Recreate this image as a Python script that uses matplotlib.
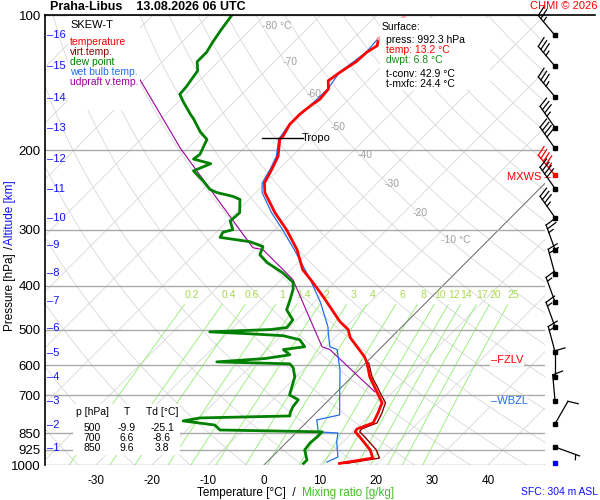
import numpy as np
import matplotlib
matplotlib.use("Agg")
import matplotlib.pyplot as plt

plt.rcParams['font.family'] = ['Liberation Sans', 'DejaVu Sans']

# sounding values
temp_p = [992, 965, 926, 866, 844, 832, 806, 766, 727, 698, 674, 637, 593, 575, 521, 500,
          480, 422, 391, 368, 332, 300, 275, 248, 236, 220, 206, 189, 186, 175, 166, 159,
          154, 146, 140, 134, 127, 121, 117, 113]
temp_t = [13.2, 18.2, 16.3, 12.1, 10.4, 10.2, 12.0, 11.1, 10.0, 7.9, 6.1, 3.2, 0.2, -1.3, -7.3, -9.1,
          -12.0, -19.5, -24.1, -27.9, -32.5, -37.9, -43.0, -48.4, -50.2, -51.3, -52.5, -55.2, -55.2, -56.1, -56.1, -55.7,
          -55.2, -55.5, -57.0, -56.4, -55.4, -55.2, -54.5, -55.5]
top_p = [113, 100]
top_t = [-55.5, -54.8]

virt_p = [992, 965, 926, 866, 844, 832, 806, 766, 727, 698, 674, 637, 593]
virt_t = [14.4, 19.4, 17.4, 13.0, 11.2, 11.0, 12.7, 11.8, 10.6, 8.4, 6.6, 3.6, 0.5]

dew_p = [992, 975, 926, 893, 866, 844, 836, 815, 798, 786, 778, 766, 743, 716, 699, 674, 637,
         608, 596, 590, 580, 569, 554, 546, 527, 516, 511, 506, 500, 495, 476, 452, 429, 407,
         393, 374, 355, 341, 327, 319, 312, 304, 300, 287, 275, 257, 253, 248, 244, 234, 222,
         214, 209, 204, 189, 182, 170, 166, 156, 150, 144, 133, 127, 121, 115, 108, 100]
dew_t = [6.8, 6.8, 4.6, 4.3, 4.5, 4.5, -14.1, -15.9, -22.3, -19.8, -4.1, -4.6, -5.2, -5.5, -7.9, -8.8, -10.2,
         -12.1, -13.4, -26.8, -18.8, -15.0, -17.1, -13.8, -15.9, -19.6, -25.9, -33.4, -23.0, -20.4, -20.7, -23.6, -24.8, -26.1,
         -27.3, -30.9, -35.5, -38.2, -39.1, -42.3, -48.4, -48.8, -47.5, -49.5, -49.3, -51.6, -53.4, -57.0, -58.8, -61.4, -65.0,
         -63.2, -67.1, -66.8, -68.2, -70.7, -74.3, -75.7, -79.1, -81.1, -81.3, -82.1, -83.8, -83.8, -84.5, -85.2, -85.9]

wet_p = [985, 960, 889, 849, 844, 794, 774, 706, 614, 554, 546, 508, 493, 435, 387, 332, 300,
         275, 248, 236, 220, 206, 189, 175, 159, 146, 134, 121, 113]
wet_t = [10.7, 11.8, 8.9, 7.5, 3.8, 1.4, 4.6, 1.4, -3.4, -7.5, -9.3, -12.1, -13.2, -18.9, -24.8, -33.0, -38.6,
         -43.6, -48.9, -50.6, -51.6, -52.8, -55.4, -56.2, -55.8, -55.6, -56.5, -55.3, -55.6]

updraft_p = [688, 554, 546, 387, 332, 329, 198, 139, 100]
updraft_t = [6.8, -8.8, -10.7, -27.9, -38.6, -40.7, -71.3, -90.9, -107.5]

alt_km = [1, 2, 3, 4, 5, 6, 7, 8, 9, 10, 11, 12, 13, 14, 15, 16]
alt_p = [916, 815, 720, 637, 563, 495, 431, 375, 325, 282, 244, 209, 178, 153, 130, 111]

wind_p = [111, 130, 152, 178, 198, 227, 243, 282, 332, 377, 434, 493, 560, 637, 720, 810, 912]
wind_dir = [320, 320, 320, 325, 325, 320, 325, 325, 340, 345, 340, 340, 345, 0, 355, 30, 110]
wind_kt = [25, 35, 35, 35, 40, 45, 40, 35, 25, 20, 15, 15, 15, 10, 10, 10, 5]

mix_ratios = [0.2, 0.4, 0.6, 1, 1.4, 2, 3, 4, 6, 8, 10, 12, 14, 17, 20, 25]
isobars = [100, 200, 300, 400, 500, 600, 700, 850, 925, 1000]

SKEW = 80.2  # degC per decade of pressure


def skew_x(t, p):
    return np.asarray(t) + SKEW * np.log10(1000.0 / np.asarray(p, dtype=float))


def draw_barb(axb, x0, y0, wdir, spd, color, shaft=26.0, flen=10.0, gap=4.0):
    # shaft points to where the wind comes from; feathers on the clockwise side
    a = np.deg2rad(wdir)
    dx, dy = np.sin(a), np.cos(a)
    fx, fy = dy, -dx
    tx, ty = x0 + shaft * dx, y0 + shaft * dy
    kw = dict(color=color, lw=0.9, clip_on=False)
    axb.plot([x0, tx], [y0, ty], **kw)
    n_full, half = int(spd // 10), (spd % 10) >= 5
    pos = 0.0
    for _ in range(n_full):
        bx0, by0 = tx - pos * dx, ty - pos * dy
        axb.plot([bx0, bx0 + flen * fx + 3 * dx], [by0, by0 + flen * fy + 3 * dy], **kw)
        pos += gap
    if half:
        if n_full == 0:
            pos = gap
        bx0, by0 = tx - pos * dx, ty - pos * dy
        axb.plot([bx0, bx0 + 0.5 * flen * fx + 1.5 * dx], [by0, by0 + 0.5 * flen * fy + 1.5 * dy], **kw)
    axb.plot([x0], [y0], 's', ms=2.5, color=color, clip_on=False)


fig = plt.figure(figsize=(6, 5), dpi=100)
ax = fig.add_axes([45 / 600, 35 / 500, 500 / 600, 450 / 500])
ax.set_yscale('log')
ax.set_ylim(1000, 100)
ax.set_xlim(-39.1, 50.2)
for s in ['top', 'right', 'bottom']:
    ax.spines[s].set_visible(False)
ax.spines['left'].set_linewidth(1.2)

pp = np.logspace(np.log10(100), np.log10(1000), 200)

# isotherms
for t0 in range(-160, 60, 10):
    ax.plot(skew_x(np.full_like(pp, t0), pp), pp, color='#d8d8d8', lw=0.6, zorder=1)
ax.plot(skew_x(np.zeros_like(pp), pp), pp, color='#707070', lw=0.7, zorder=2)

# dry adiabats
for th in range(230, 480, 10):
    tt = th * (pp / 1000.0) ** 0.286 - 273.15
    ax.plot(skew_x(tt, pp), pp, color='#d8d8d8', lw=0.6, zorder=1)

# mixing ratio lines
pm = np.logspace(np.log10(440), np.log10(1000), 50)
for w in mix_ratios:
    e = w * pm / (622.0 + w)
    td = 243.5 * np.log(e / 6.112) / (17.67 - np.log(e / 6.112))
    ax.plot(skew_x(td, pm), pm, color='#90ee70', lw=0.6, zorder=1)
    e0 = w * 418 / (622.0 + w)
    td0 = 243.5 * np.log(e0 / 6.112) / (17.67 - np.log(e0 / 6.112))
    ax.text(skew_x(td0, 418), 418, f"{w:g}", color='#a8d850', fontsize=7.5,
            ha='center', va='center', zorder=3)

for p in isobars:
    ax.axhline(p, color='#aaaaaa', lw=1.0, zorder=2)

iso_lbl = [(-80, 106, '-80 °C'), (-70, 127, '-70'), (-60, 150, '-60'), (-50, 177, '-50'),
           (-40, 205, '-40'), (-30, 238, '-30'), (-20, 275, '-20'), (-10, 316, '-10 °C')]
for t0, p, s in iso_lbl:
    ax.text(skew_x(t0, p) + 1.5, p, s, color='#a0a0a0', fontsize=7.5, ha='left', va='center', zorder=3)

# profiles
ax.plot(skew_x(updraft_t, updraft_p), updraft_p, color='#a000a0', lw=0.8, zorder=4)
ax.plot(skew_x(wet_t, wet_p), wet_p, color='#2070f0', lw=0.9, zorder=4)
ax.plot(skew_x(virt_t, virt_p), virt_p, color='#8b0000', lw=1.0, zorder=4)
ax.plot(skew_x(dew_t, dew_p), dew_p, color='#008000', lw=2.0, zorder=5)
ax.plot(skew_x(temp_t, temp_p), temp_p, color='#ff0000', lw=2.0, zorder=5)
ax.plot(skew_x(top_t, top_p), top_p, color='#ffaaaa', lw=2.0, zorder=5)

# tropopause
ax.plot([skew_x(-58.5, 188), skew_x(-51.2, 188)], [188, 188], color='black', lw=1, zorder=6)
ax.text(skew_x(-51.5, 188), 188, 'Tropo', fontsize=8, va='center', zorder=6)

ax.set_yticks(isobars)
ax.set_yticklabels([str(p) for p in isobars], fontsize=9.5)
ax.yaxis.set_minor_locator(matplotlib.ticker.NullLocator())
ax.tick_params(axis='y', length=0, pad=3)
ax.set_xticks(skew_x(np.arange(-30, 50, 10), 1000))
ax.set_xticklabels([str(t) for t in range(-30, 50, 10)], fontsize=8.5)
ax.tick_params(axis='x', length=0, pad=7)

for km, p in zip(alt_km, alt_p):
    ax.text(0.004, p, '\u2013' + str(km), transform=ax.get_yaxis_transform(), color='#1010ff',
            fontsize=8, va='center', ha='left', zorder=6)

# labels
ax.text(40.5, 585, '\u2013FZLV', color='red', fontsize=8, va='center',
        bbox=dict(fc='white', ec='none', pad=0.5), zorder=7)
ax.text(40.5, 722, '\u2013WBZL', color='#2070f0', fontsize=8, va='center',
        bbox=dict(fc='white', ec='none', pad=0.5), zorder=7)
ax.text(43.5, 229, 'MXWS \u2013', color='red', fontsize=8, va='center', zorder=7)

# legend box
fig.patches.append(plt.Rectangle((68 / 600, 1 - 110 / 500), 72 / 600, 94 / 500,
                                 transform=fig.transFigure, fc='white', ec='none', zorder=6))
leg = [('SKEW-T', 'black'), ('temperature', 'red'), ('virt.temp.', '#8b0000'), ('dew point', '#008000'),
       ('wet bulb temp.', '#2070f0'), ('udpraft v.temp.', '#a000a0')]
fig.text(70 / 600, 1 - 25 / 500, leg[0][0], fontsize=8, color=leg[0][1], va='center', zorder=8)
for i, (s, c) in enumerate(leg[1:]):
    fig.text(70 / 600, 1 - (42 + 10 * i) / 500, s, fontsize=7.5, color=c, va='center', zorder=8)

# surface box
fig.patches.append(plt.Rectangle((380 / 600, 1 - 90 / 500), 110 / 600, 72 / 500,
                                 transform=fig.transFigure, fc='white', ec='none', zorder=6))
sfc = [('Surface:', 'black', 27), ('press: 992.3 hPa', 'black', 40), ('temp: 13.2 °C', 'red', 50),
       ('dwpt: 6.8 °C', '#109010', 60), ('t-conv: 42.9 °C', 'black', 74), ('t-mxfc: 24.4 °C', 'black', 84)]
for s, c, y in sfc:
    x = 382 if s == 'Surface:' else 386
    fig.text(x / 600, 1 - y / 500, s, fontsize=7.5, color=c, va='center', zorder=8)

# table box
fig.patches.append(plt.Rectangle((73 / 600, 1 - 455 / 500), 107 / 600, 51 / 500,
                                 transform=fig.transFigure, fc='white', ec='none', zorder=6))
tab = [('p [hPa]', 'T', 'Td [°C]', 412), ('500', '-9.9', '-25.1', 428), ('700', '6.6', '-8.6', 438),
       ('850', '9.6', '3.8', 448)]
for a, b, c, y in tab:
    fig.text(92 / 600, 1 - y / 500, a, fontsize=7.5, ha='center', va='center', zorder=8)
    fig.text(127 / 600, 1 - y / 500, b, fontsize=7.5, ha='center', va='center', zorder=8)
    fig.text(162 / 600, 1 - y / 500, c, fontsize=7.5, ha='center', va='center', zorder=8)

# title and frame
fig.text(50 / 600, 1 - 7 / 500, 'Praha-Libus    13.08.2026 06 UTC', fontsize=9, weight='bold', va='center')
fig.text(597 / 600, 1 - 6 / 500, 'CHMI © 2026', fontsize=8, color='red', ha='right', va='center')
fig.add_artist(plt.Line2D([45 / 600, 595 / 600], [1 - 15 / 500] * 2, color='black', lw=1.2))
fig.text(10 / 600, 1 - 292 / 500, 'Pressure [hPa]', rotation=90, fontsize=8.5, ha='center', va='center')
fig.text(10 / 600, 1 - 247 / 500, '/', rotation=90, fontsize=8.5, ha='center', va='center')
fig.text(10 / 600, 1 - 213 / 500, 'Altitude [km]', rotation=90, fontsize=8.5, color='#1010ff',
         ha='center', va='center')
fig.text(197 / 600, 1 - 493 / 500, 'Temperature [°C]  /', fontsize=8.5, va='center')
fig.text(302 / 600, 1 - 493 / 500, 'Mixing ratio [g/kg]', fontsize=8.5, color='#40c020', va='center')
fig.text(598 / 600, 1 - 492 / 500, 'SFC: 304 m ASL', fontsize=7.5, color='#1010ff', ha='right', va='center')

# wind barbs, axis in pixel units (y = log-pressure scaled like the main axes)
bx = fig.add_axes([545 / 600, 35 / 500, 55 / 600, 450 / 500])
bx.set_xlim(0, 55)
bx.set_ylim(0, 450)
bx.axis('off')
by = 450 * np.log10(1000.0 / np.array(wind_p, dtype=float))
for yb, wd, ws, p in zip(by, wind_dir, wind_kt, wind_p):
    draw_barb(bx, 10.0, yb, wd, ws, 'red' if p == 227 else 'black')
bx.plot([10.0], [450 * np.log10(1000 / 992)], 's', ms=2.5, color='blue', clip_on=False)

fig.savefig('out.png', dpi=100)
